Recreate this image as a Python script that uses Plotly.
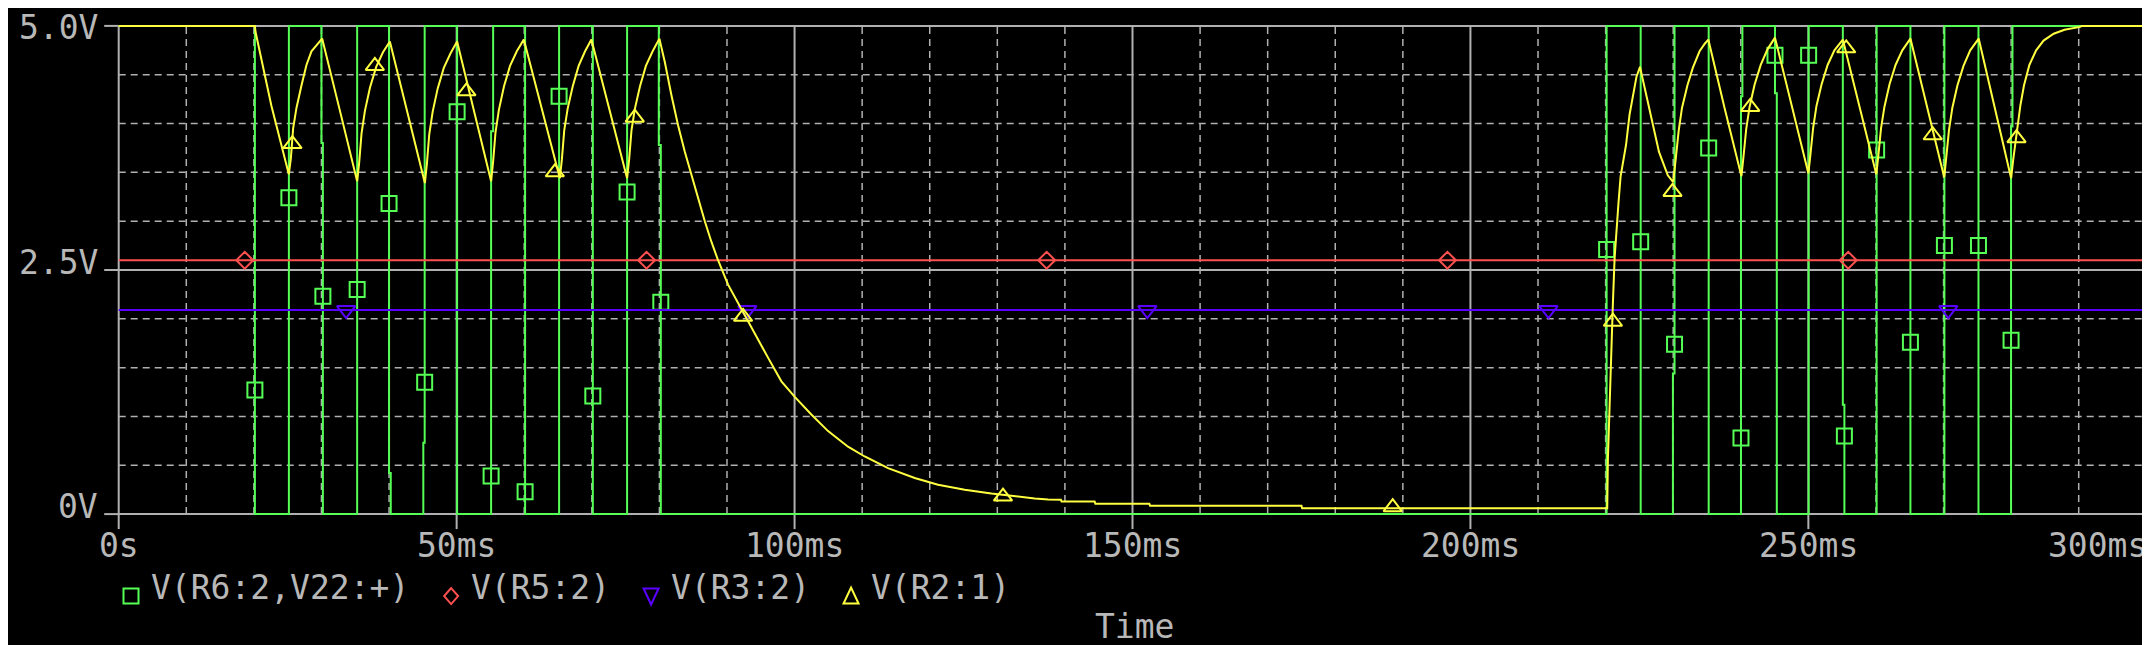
import numpy as np
import plotly.graph_objects as go

# ------------------------------------------------------------------ data
x_tick_vals = [0, 50, 100, 150, 200, 250, 300]
x_tick_text = ["0s", "50ms", "100ms", "150ms", "200ms", "250ms", "300ms"]
y_tick_vals = [0.0, 2.5, 5.0]
y_tick_text = ["0V", "2.5V", "5.0V"]
x_minor_vals = [10, 20, 30, 40, 60, 70, 80, 90, 110, 120, 130, 140, 160, 170,
                180, 190, 210, 220, 230, 240, 260, 270, 280, 290]
y_minor_vals = [0.5, 1.0, 1.5, 2.0, 3.0, 3.5, 4.0, 4.5]
x_title = "Time"
series_names = ["V(R6:2,V22:+)", "V(R5:2)", "V(R3:2)", "V(R2:1)"]

# V(R6:2,V22:+)  (time in ms, volts)
green_t = [0.0, 20.15, 20.15, 25.18, 25.18, 30.0, 30.0, 30.21, 30.21, 35.28, 35.28,
           40.0, 40.0, 40.25, 40.25, 45.07, 45.07, 45.27, 45.27, 50.07, 50.07,
           55.10, 55.10, 55.40, 55.40, 60.13, 60.13, 65.16, 65.16, 70.15, 70.15,
           75.22, 75.22, 79.91, 79.91, 80.21, 80.21,
           220.15, 220.15, 225.19, 225.19, 229.96, 229.96, 230.20, 230.20,
           235.25, 235.25, 240.03, 240.03, 240.24, 240.24, 245.06, 245.06,
           245.33, 245.33, 250.04, 250.04, 255.10, 255.10, 255.33, 255.33,
           260.10, 260.10, 265.10, 265.10, 270.13, 270.13, 275.17, 275.17,
           279.99, 279.99, 280.20, 280.20, 300.0]
green_v = [5.0, 5.0, 0.0, 0.0, 5.0, 5.0, 3.80, 3.80, 0.0, 0.0, 5.0,
           5.0, 0.42, 0.42, 0.0, 0.0, 0.73, 0.73, 5.0, 5.0, 0.0,
           0.0, 3.92, 3.92, 5.0, 5.0, 0.0, 0.0, 5.0, 5.0, 0.0,
           0.0, 5.0, 5.0, 3.78, 3.78, 0.0,
           0.0, 5.0, 5.0, 0.0, 0.0, 1.44, 1.44, 5.0,
           5.0, 0.0, 0.0, 4.28, 4.28, 5.0, 5.0, 4.31,
           4.31, 0.0, 0.0, 5.0, 5.0, 1.12, 1.12, 0.0,
           0.0, 5.0, 5.0, 0.0, 0.0, 5.0, 5.0, 0.0,
           0.0, 3.97, 3.97, 5.0, 5.0]
green_mark_t = [20.15, 25.18, 30.21, 35.28, 40.0, 45.27, 50.07, 55.10, 60.13, 65.16,
                70.15, 75.22, 80.21,
                220.15, 225.19, 230.20, 235.25, 240.03, 245.06, 250.04, 255.33,
                260.10, 265.10, 270.13, 275.17, 279.99]
green_mark_v = [1.27, 3.24, 2.23, 2.30, 3.18, 1.35, 4.12, 0.39, 0.23, 4.28,
                1.21, 3.30, 2.17,
                2.71, 2.79, 1.74, 3.75, 0.78, 4.70, 4.70, 0.80,
                3.73, 1.76, 2.75, 2.75, 1.78]

# V(R5:2)
red_t = [0.0, 300.0]
red_v = [2.60, 2.60]
red_mark_t = [18.65, 78.1, 137.3, 196.6, 255.9]

# V(R3:2)
blue_t = [0.0, 300.0]
blue_v = [2.09, 2.09]
blue_mark_t = [33.65, 93.0, 152.2, 211.55, 270.7]

# V(R2:1)
yellow_t = [0.0, 20.15, 20.24, 22.6, 25.17,
            25.47, 25.81, 26.30, 27.04, 27.78, 28.52, 29.26, 30.10,
            32.7, 35.28,
            35.58, 35.93, 36.43, 37.18, 38.10, 39.10, 40.12,
            42.7, 45.30,
            45.60, 45.95, 46.45, 47.20, 48.10, 49.10, 50.07,
            52.6, 55.10,
            55.40, 55.75, 56.25, 57.00, 57.90, 58.90, 59.94,
            62.6, 65.27,
            65.57, 65.92, 66.42, 67.17, 68.05, 69.00, 69.94,
            72.6, 75.22,
            75.52, 75.87, 76.37, 77.12, 78.00, 79.00, 80.00,
            80.80, 81.78, 82.77, 83.76, 84.75, 85.73, 86.72, 87.69, 88.68, 90.16,
            92.38, 94.11, 96.09, 98.05, 100.03, 102.48, 104.96, 107.91, 110.38,
            113.83, 117.78, 121.23, 125.18, 129.11, 132.57, 135.53,
            137.5, 139.4, 139.5, 144.4, 144.5, 152.5, 152.6, 175.0, 175.1, 220.24,
            220.34, 220.59, 220.83, 221.08, 221.33, 221.57, 221.92, 222.22, 222.60,
            223.02, 223.54, 224.05, 224.57, 225.09,
            225.5, 226.6, 227.9, 229.2, 230.0,
            230.38, 230.8, 231.3, 232.1, 232.9, 233.9, 234.7, 235.2,
            237.6, 240.1,
            240.4, 240.8, 241.3, 242.05, 242.95, 243.95, 245.06,
            247.5, 250.0,
            250.3, 250.7, 251.2, 251.95, 252.85, 253.85, 255.1,
            257.6, 260.05,
            260.35, 260.75, 261.25, 262.0, 262.9, 263.9, 265.1,
            267.6, 270.1,
            270.4, 270.8, 271.3, 272.05, 272.95, 273.95, 275.2,
            277.6, 280.0,
            280.33, 280.86, 281.38, 281.9, 282.7, 283.7, 284.8, 286.3, 287.9,
            290.2, 290.5, 300.0]
yellow_v = [5.0, 5.0, 4.94, 4.18, 3.48,
            3.64, 3.95, 4.16, 4.39, 4.60, 4.74, 4.80, 4.87,
            4.14, 3.41,
            3.60, 3.90, 4.13, 4.37, 4.58, 4.73, 4.84,
            4.12, 3.39,
            3.59, 3.89, 4.12, 4.36, 4.57, 4.72, 4.84,
            4.13, 3.41,
            3.61, 3.91, 4.14, 4.38, 4.59, 4.74, 4.86,
            4.15, 3.44,
            3.63, 3.93, 4.15, 4.38, 4.59, 4.74, 4.86,
            4.15, 3.44,
            3.63, 3.93, 4.15, 4.38, 4.59, 4.74, 4.87,
            4.63, 4.29, 3.98, 3.71, 3.47, 3.23, 3.00, 2.79, 2.60, 2.35,
            2.07, 1.84, 1.60, 1.36, 1.20, 1.02, 0.85, 0.69, 0.59,
            0.47, 0.37, 0.30, 0.25, 0.21, 0.18, 0.16,
            0.15, 0.147, 0.13, 0.13, 0.105, 0.105, 0.085, 0.085, 0.06, 0.06,
            0.57, 1.19, 1.72, 2.16, 2.62, 2.89, 3.20, 3.46, 3.62,
            3.78, 4.09, 4.29, 4.48, 4.58,
            4.45, 4.09, 3.71, 3.47, 3.40,
            3.64, 3.92, 4.16, 4.39, 4.57, 4.74, 4.82, 4.86,
            4.16, 3.46,
            3.66, 3.94, 4.17, 4.40, 4.60, 4.76, 4.88,
            4.18, 3.49,
            3.68, 3.95, 4.18, 4.40, 4.60, 4.75, 4.86,
            4.17, 3.48,
            3.67, 3.95, 4.17, 4.40, 4.60, 4.75, 4.87,
            4.16, 3.45,
            3.65, 3.93, 4.16, 4.39, 4.59, 4.75, 4.87,
            4.15, 3.44,
            3.64, 3.92, 4.19, 4.39, 4.60, 4.75, 4.85, 4.92, 4.96,
            4.99, 5.0, 5.0]
yellow_mark_t = [25.71, 37.90, 51.45, 64.53, 76.36, 92.38, 130.84, 188.5,
                 221.08, 229.9, 241.4, 255.6, 268.4, 280.8]
yellow_mark_v = [3.79, 4.59, 4.33, 3.50, 4.06, 2.02, 0.18, 0.07,
                 1.97, 3.30, 4.17, 4.77, 3.88, 3.85]

# ------------------------------------------------------------------ style / geometry
W, H = 2150, 645
X0PX, X1PX = 110.5, 2138.5      # pixel of 0 ms and 300 ms
YTOPPX, YBOTPX = 17.5, 506.0    # pixel of 5 V and 0 V
XMIN, XMAX, YMIN, YMAX = 0.0, 300.0, 0.0, 5.0
kx = (X1PX - X0PX) / (XMAX - XMIN)
ky = (YBOTPX - YTOPPX) / (YMAX - YMIN)
XPAD, YPAD = 0.4, 0.04
ml = X0PX - XPAD * kx
mr = W - (X1PX + XPAD * kx)
mt = YTOPPX - YPAD * ky
mb = H - (YBOTPX + YPAD * ky)
PW, PH = W - ml - mr, H - mt - mb
TEXT_DY = -8.0      # plotly annotation boxes sit a bit low; lift them
TEXT_DX = -9.0      # left-anchored label box padding
TEXT_MIN_PY = 19.0  # keep the top label's box inside the page


def px_of(x):
    return X0PX + (x - XMIN) * kx


def py_of(y):
    return YBOTPX - (y - YMIN) * ky


def paper_x(px):
    return (px - ml) / PW


def paper_y(py):
    return (H - mb - py) / PH


GREEN = "#55ff55"
RED = "#ff5050"
BLUE = "#5a00ff"
YELLOW = "#ffff40"
GRID = "#b0b0b0"
TEXT = "#b8b8b8"
FONT = "DejaVu Sans Mono"
FS = 33
LW = 2
DASH = "7px,5px"

fig = go.Figure()


def add_series(t, v, mt_, mv_, color, symbol, msize):
    fig.add_trace(go.Scatter(x=t, y=v, mode="lines",
                             line=dict(color=color, width=LW),
                             showlegend=False, hoverinfo="skip"))
    fig.add_trace(go.Scatter(x=mt_, y=mv_, mode="markers",
                             marker=dict(symbol=symbol, size=msize, color=color,
                                         line=dict(color=color, width=2)),
                             showlegend=False, hoverinfo="skip", cliponaxis=False))


add_series(green_t, green_v, green_mark_t, green_mark_v, GREEN, "square-open", 15)
add_series(red_t, red_v, red_mark_t, list(np.interp(red_mark_t, red_t, red_v)),
           RED, "diamond-open", 13)
add_series(blue_t, blue_v, blue_mark_t, list(np.interp(blue_mark_t, blue_t, blue_v)),
           BLUE, "triangle-down-open", 16)
add_series(yellow_t, yellow_v, yellow_mark_t, yellow_mark_v, YELLOW, "triangle-up-open", 16)

shapes = []
# dashed minor grid
for xv in x_minor_vals:
    shapes.append(dict(type="line", xref="x", yref="y", x0=xv, x1=xv, y0=YMIN, y1=YMAX,
                       line=dict(color=GRID, width=1.5, dash=DASH), layer="below"))
for yv in y_minor_vals:
    shapes.append(dict(type="line", xref="x", yref="y", x0=XMIN, x1=XMAX, y0=yv, y1=yv,
                       line=dict(color=GRID, width=1.5, dash=DASH), layer="below"))
# solid major grid / frame
for xv in x_tick_vals:
    shapes.append(dict(type="line", xref="x", yref="y", x0=xv, x1=xv, y0=YMIN, y1=YMAX,
                       line=dict(color=GRID, width=2), layer="below"))
for yv in y_tick_vals:
    shapes.append(dict(type="line", xref="x", yref="y", x0=XMIN, x1=XMAX, y0=yv, y1=yv,
                       line=dict(color=GRID, width=2), layer="below"))
# tick marks (outside)
for xv in x_tick_vals:
    p = paper_x(px_of(xv))
    shapes.append(dict(type="line", xref="paper", yref="paper", x0=p, x1=p,
                       y0=paper_y(YBOTPX), y1=paper_y(YBOTPX + 15),
                       line=dict(color=GRID, width=2), layer="below"))
for yv in y_tick_vals:
    p = paper_y(py_of(yv))
    shapes.append(dict(type="line", xref="paper", yref="paper", x0=paper_x(96.0),
                       x1=paper_x(X0PX), y0=p, y1=p,
                       line=dict(color=GRID, width=2), layer="below"))

# legend symbols (pixel-sized path shapes; pixel y points up)
leg_colors = [GREEN, RED, BLUE, YELLOW]
leg_paths = ["M-7.5,-7.5L7.5,-7.5L7.5,7.5L-7.5,7.5Z",
             "M0,8L7,0L0,-8L-7,0Z",
             "M-7.5,7.5L7.5,7.5L0,-8.5Z",
             "M-7.5,-7.5L7.5,-7.5L0,8.5Z"]
leg_sym_px = [122.8, 443.0, 643.0, 843.0]
leg_text_px = [150.0, 469.5, 669.5, 869.5]
LEG_Y_PX = 588.0
for c, pth, sx in zip(leg_colors, leg_paths, leg_sym_px):
    shapes.append(dict(type="path", xref="paper", yref="paper",
                       xsizemode="pixel", ysizemode="pixel",
                       xanchor=paper_x(sx), yanchor=paper_y(LEG_Y_PX), path=pth,
                       line=dict(color=c, width=2), fillcolor="rgba(0,0,0,0)",
                       layer="above"))

font = dict(family=FONT, size=FS, color=TEXT)
ann = []
for yv, tx in zip(y_tick_vals, y_tick_text):
    ann.append(dict(text=tx, xref="paper", yref="paper", x=paper_x(92.0),
                    y=paper_y(max(py_of(yv) + TEXT_DY, TEXT_MIN_PY)),
                    xanchor="right", yanchor="middle",
                    showarrow=False, font=font))
for i, (xv, tx) in enumerate(zip(x_tick_vals, x_tick_text)):
    last = i == len(x_tick_vals) - 1
    ann.append(dict(text=tx, xref="paper", yref="paper",
                    x=paper_x(2141.0 if last else px_of(xv)), y=paper_y(545.0 + TEXT_DY),
                    xanchor="right" if last else "center", yanchor="middle",
                    showarrow=False, font=font))
for name, tpx in zip(series_names, leg_text_px):
    ann.append(dict(text=name, xref="paper", yref="paper", x=paper_x(tpx + TEXT_DX),
                    y=paper_y(LEG_Y_PX - 1 + TEXT_DY), xanchor="left", yanchor="middle",
                    showarrow=False, font=font))
ann.append(dict(text=x_title, xref="paper", yref="paper", x=paper_x(1126.5),
                y=paper_y(626.0 + TEXT_DY), xanchor="center", yanchor="middle",
                showarrow=False, font=font))

fig.update_layout(
    width=W, height=H, autosize=False,
    margin=dict(l=ml, r=mr, t=mt, b=mb, pad=0),
    paper_bgcolor="#000000", plot_bgcolor="#000000",
    xaxis=dict(range=[XMIN - XPAD, XMAX + XPAD], showgrid=False, zeroline=False,
               showline=False, showticklabels=False, ticks=""),
    yaxis=dict(range=[YMIN - YPAD, YMAX + YPAD], showgrid=False, zeroline=False,
               showline=False, showticklabels=False, ticks=""),
    shapes=shapes, annotations=ann, showlegend=False,
)

fig.write_html("out.html")
